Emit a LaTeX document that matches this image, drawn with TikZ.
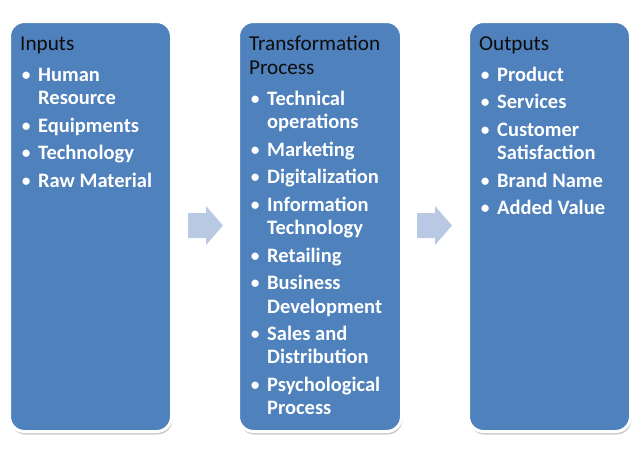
\documentclass[tikz,border=0pt]{standalone}
\usepackage{fontspec}
\setmainfont{Carlito}
\usetikzlibrary{shadows}
\definecolor{boxblue}{HTML}{4F81BD}
\definecolor{arrblue}{HTML}{B9C9E3}
\definecolor{titletext}{HTML}{0D0D0D}
\tikzset{
  panel/.style={draw=white, line width=3pt, fill=boxblue, rounded corners=15pt,
    drop shadow={shadow xshift=1pt, shadow yshift=-3pt, opacity=0.35, fill=black!60}},
  ttl/.style={anchor=base west, inner sep=0pt, text=titletext, font=\fontsize{21.2}{24}\selectfont},
  itm/.style={anchor=base west, inner sep=0pt, text=white, font=\fontsize{20.5}{24}\selectfont\bfseries},
  flowarrow/.style={fill=arrblue, draw=none}
}
\newcommand{\bul}{\makebox[17pt][l]{\mdseries•}}
\begin{document}
\begin{tikzpicture}[x=1pt,y=-1pt]
\useasboundingbox (0,0) rectangle (640,453);
% panels
\path[panel] (9.5,21.5) rectangle (171.5,431.5);
\path[panel] (238.5,21.5) rectangle (401.5,431.5);
\path[panel] (468.5,21.5) rectangle (630.5,431.5);
% arrows
\path[flowarrow] (188,213) -- (206,213) -- (206,206) -- (223,225.5) -- (206,245) -- (206,238) -- (188,238) -- cycle;
\path[flowarrow] (417,213) -- (435,213) -- (435,206) -- (452,225.5) -- (435,245) -- (435,238) -- (417,238) -- cycle;
% box 1
\node[ttl] (t1) at (20,50.5) {Inputs};
\node[itm] (a1) at (21,81) {\bul Human};
\node[itm] (a1b) at (38,104.5) {Resource};
\node[itm] (a2) at (21,132) {\bul Equipments};
\node[itm] (a3) at (21,159.5) {\bul Technology};
\node[itm] (a4) at (21,187) {\bul Raw Material};
% box 2
\node[ttl] (t2) at (249,50.5) {Transformation};
\node[ttl] (t2b) at (249,74) {Process};
\node[itm] (b1) at (250,105) {\bul Technical};
\node[itm] (b1b) at (267,128.5) {operations};
\node[itm] (b2) at (250,156) {\bul Marketing};
\node[itm] (b3) at (250,183.5) {\bul Digitalization};
\node[itm] (b4) at (250,211) {\bul Information};
\node[itm] (b4b) at (267,234.5) {Technology};
\node[itm] (b5) at (250,262) {\bul Retailing};
\node[itm] (b6) at (250,289.5) {\bul Business};
\node[itm] (b6b) at (267,313) {Development};
\node[itm] (b7) at (250,340) {\bul Sales and};
\node[itm] (b7b) at (267,363.5) {Distribution};
\node[itm] (b8) at (250,391) {\bul Psychological};
\node[itm] (b8b) at (267,414) {Process};
% box 3
\node[ttl] (t3) at (479,50.5) {Outputs};
\node[itm] (c1) at (480,81) {\bul Product};
\node[itm] (c2) at (480,108.5) {\bul Services};
\node[itm] (c3) at (480,136) {\bul Customer};
\node[itm] (c3b) at (497,159.5) {Satisfaction};
\node[itm] (c4) at (480,187) {\bul Brand Name};
\node[itm] (c5) at (480,214.5) {\bul Added Value};
\end{tikzpicture}
\end{document}
